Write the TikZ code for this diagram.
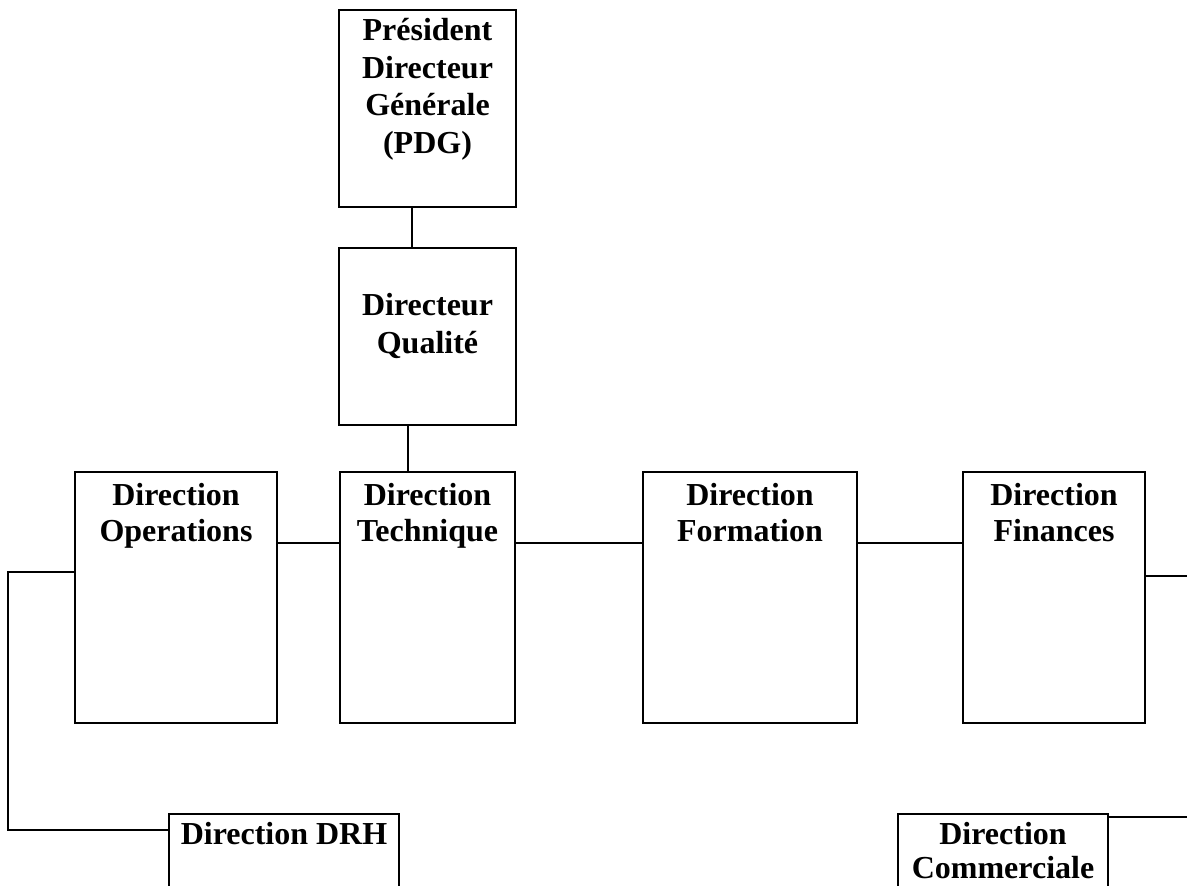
\documentclass[tikz,border=0pt]{standalone}
\usepackage{fontspec}
\setmainfont{Liberation Serif}
\usetikzlibrary{calc,positioning}

\tikzset{
  box/.style={draw, line width=2pt, rectangle, inner sep=0pt, outer sep=0pt, fill=white},
  lbl/.style={anchor=north, align=center, inner sep=6pt,
    font=\bfseries\fontsize{24}{27}\selectfont},
  tall/.style={font=\bfseries\fontsize{24}{28.3}\selectfont},
  tight/.style={font=\bfseries\fontsize{24}{25.5}\selectfont},
  link/.style={line width=1.5pt}
}

\begin{document}
\begin{tikzpicture}[x=0.75pt, y=-0.75pt]
    \clip (0,0) rectangle (1187,885);
    \fill[white] (0,0) rectangle (1187,885);
    % fixed points of the connectors
    \coordinate (row) at (0,543);
    \coordinate (spineA) at (412,0);
    \coordinate (spineB) at (408,0);
    \coordinate (leftup) at (8,572);
    \coordinate (leftdn) at (8,830);
    \coordinate (rightup) at (1192,576);
    \coordinate (rightdn) at (1192,817);
    % boxes
    \node[box, minimum width=132.75pt, minimum height=147.75pt,
      label={[lbl, tall]north:Président\\Directeur\\Générale\\(PDG)}] (pdg) at (427.5,108.5) {};
    \node[box, minimum width=132.75pt, minimum height=132.75pt,
      label={[lbl, tall, yshift=-28pt]north:Directeur\\Qualité}] (qual) at (427.5,336.5) {};
    \node[box, minimum width=151.5pt, minimum height=188.25pt,
      label={[lbl, yshift=-2.25pt]north:Direction\\Operations}] (ops) at (176,597.5) {};
    \node[box, minimum width=131.25pt, minimum height=188.25pt,
      label={[lbl, yshift=-2.25pt]north:Direction\\Technique}] (tech) at (427.5,597.5) {};
    \node[box, minimum width=160.5pt, minimum height=188.25pt,
      label={[lbl, yshift=-2.25pt]north:Direction\\Formation}] (form) at (750,597.5) {};
    \node[box, minimum width=136.5pt, minimum height=188.25pt,
      label={[lbl, yshift=-2.25pt]north:Direction\\Finances}] (fin) at (1054,597.5) {};
    \node[box, minimum width=172.5pt, minimum height=64.5pt,
      label={[lbl]north:Direction DRH}] (drh) at (284,857) {};
    \node[box, minimum width=157.5pt, minimum height=64.5pt,
      label={[lbl, tight]north:Direction\\Commerciale}] (comm) at (1003,857) {};
    % connectors
    \draw[link] (pdg.south -| spineA) -- (qual.north -| spineA);
    \draw[link] (qual.south -| spineB) -- (tech.north -| spineB);
    \draw[link] (ops.east |- row) -- (tech.west |- row);
    \draw[link] (tech.east |- row) -- (form.west |- row);
    \draw[link] (form.east |- row) -- (fin.west |- row);
    \draw[link] (ops.west |- leftup) -- (leftup) -- (leftdn) -- (drh.west |- leftdn);
    \draw[link] (fin.east |- rightup) -- (rightup);
    \draw[link] (comm.east |- rightdn) -- (rightdn);
\end{tikzpicture}
\end{document}
